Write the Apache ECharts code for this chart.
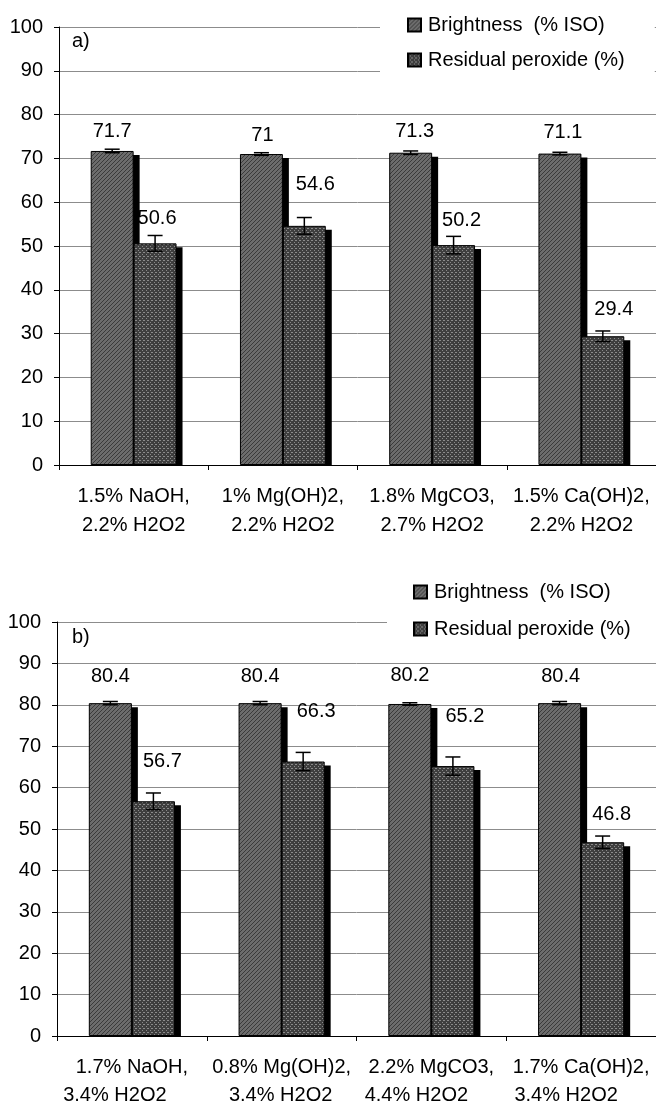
<!DOCTYPE html>
<html>
<head>
<meta charset="utf-8">
<script src="https://cdn.jsdelivr.net/npm/echarts@6/dist/echarts.min.js"></script>
<style>
html,body{margin:0;padding:0;background:#fff;}
#chart{width:656px;height:1109px;}
</style>
</head>
<body>
<div id="chart"></div>
<script>
// ---------- DATA ----------
const seriesNames = ['Brightness  (% ISO)', 'Residual peroxide (%)'];
const catsA = ['1.5% NaOH,\n2.2% H2O2', '1% Mg(OH)2,\n2.2% H2O2', '1.8% MgCO3,\n2.7% H2O2', '1.5% Ca(OH)2,\n2.2% H2O2'];
const brightA = [71.7, 71, 71.3, 71.1];
const residA = [50.6, 54.6, 50.2, 29.4];
const brightErrA = [0.4, 0.3, 0.4, 0.3];
const residErrA = [1.8, 1.9, 2.0, 1.2];

const catsB = ['1.7% NaOH,\n3.4% H2O2', '0.8% Mg(OH)2,\n3.4% H2O2', '2.2% MgCO3,\n4.4% H2O2', '1.7% Ca(OH)2,\n3.4% H2O2'];
const brightB = [80.4, 80.4, 80.2, 80.4];
const residB = [56.7, 66.3, 65.2, 46.8];
const brightErrB = [0.4, 0.4, 0.3, 0.4];
const residErrB = [2.0, 2.2, 2.2, 1.5];

const yMin = 0, yMax = 100, yStep = 10;
const panelTitles = ['a)', 'b)'];

// ---------- STYLE / LAYOUT ----------
// label [dx, distance] per bar
const labelLayoutA = {
  b: [[0, 9], [1, 9], [4, 11], [3, 11]],
  r: [[2, 15], [11, 31], [8, 15], [11, 17]]
};
const labelLayoutB = {
  b: [[0, 17], [0, 17], [0, 18], [1, 17]],
  r: [[9, 30], [13, 40], [12, 40], [9, 18]]
};
// second-line left shift for panel b category labels (px)
const line2ShiftB = [17, 1, 15, 15];

const FONT = '"Liberation Sans", Arial, sans-serif';
const FS = 20;
const GAP = 0.425;
const SH_X = 6, SH_Y = 4;

function makePattern(kind) {
  const c = document.createElement('canvas');
  c.width = 4; c.height = 4;
  const g = c.getContext('2d');
  if (kind === 0) {
    g.fillStyle = '#6c6c6c'; g.fillRect(0, 0, 4, 4);
    g.fillStyle = '#3a3a3a';
    for (let i = 0; i < 4; i++) g.fillRect(i, 3 - i, 1, 1);
  } else {
    g.fillStyle = '#3e3e3e'; g.fillRect(0, 0, 4, 4);
    g.fillStyle = '#8a8a8a';
    g.fillRect(0, 0, 1, 1); g.fillRect(2, 2, 1, 1); g.fillRect(3, 0, 1, 1);
  }
  return { image: c, repeat: 'repeat' };
}
const fills = [makePattern(0), makePattern(1)];

function barLeft(api, idx, v, s) {
  const c = api.coord([idx, v]);
  const cw = api.size([1, 0])[0];
  const bw = cw * (1 - GAP) / 2;
  return { x: c[0] - bw + s * bw, y: c[1], bw: bw };
}

function shadowRender(params, api) {
  const idx = api.value(0), v = api.value(1), s = api.value(2);
  const b = barLeft(api, idx, v, s);
  const base = api.coord([idx, 0])[1];
  return {
    type: 'rect',
    shape: { x: b.x + SH_X, y: b.y + SH_Y, width: b.bw, height: Math.max(0, base - b.y - SH_Y) },
    style: { fill: '#000' }
  };
}

function errRender(params, api) {
  const idx = api.value(0), v = api.value(1), e = api.value(2), s = api.value(3);
  const b = barLeft(api, idx, v, s);
  const cx = b.x + b.bw / 2;
  const yHi = api.coord([idx, v + e])[1];
  const yLo = api.coord([idx, v - e])[1];
  const hw = 7.5;
  const st = { stroke: '#000', lineWidth: 1.5 };
  return {
    type: 'group',
    children: [
      { type: 'line', shape: { x1: cx, y1: yHi, x2: cx, y2: yLo }, style: st },
      { type: 'line', shape: { x1: cx - hw, y1: yHi, x2: cx + hw, y2: yHi }, style: st },
      { type: 'line', shape: { x1: cx - hw, y1: yLo, x2: cx + hw, y2: yLo }, style: st }
    ]
  };
}

const grids = [
  { left: 59, top: 27, width: 598, height: 438 },
  { left: 57, top: 622, width: 600, height: 419 }
];

const panels = [
  { cats: catsA, b: brightA, r: residA, be: brightErrA, re: residErrA, lay: labelLayoutA },
  { cats: catsB, b: brightB, r: residB, be: brightErrB, re: residErrB, lay: labelLayoutB }
];

const xAxes = [], yAxes = [], series = [];
panels.forEach((p, gi) => {
  const rich = {};
  let formatter;
  if (gi === 1) {
    rich.l1 = { fontSize: FS, fontFamily: FONT, color: '#000', lineHeight: 28 };
    line2ShiftB.forEach((sh, i) => {
      rich['l2_' + i] = { fontSize: FS, fontFamily: FONT, color: '#000', lineHeight: 28, padding: [0, sh * 2, 0, 0] };
    });
    formatter = function (val, i) {
      const parts = val.split('\n');
      return '{l1|' + parts[0] + '}\n{l2_' + i + '|' + parts[1] + '}';
    };
  }
  xAxes.push({
    type: 'category', gridIndex: gi, data: p.cats,
    axisLine: { show: true, lineStyle: { color: '#000', width: 1 } },
    axisTick: { show: true, length: 5, interval: 0, lineStyle: { color: '#000' } },
    axisLabel: {
      interval: 0, fontSize: FS, fontFamily: FONT, color: '#000',
      lineHeight: gi === 0 ? 29 : 28, margin: 17,
      formatter: formatter, rich: gi === 1 ? rich : undefined
    },
    splitLine: { show: false }
  });
  yAxes.push({
    type: 'value', gridIndex: gi, min: yMin, max: yMax, interval: yStep,
    axisLine: { show: true, lineStyle: { color: '#000', width: 1 } },
    axisTick: { show: true, length: 5, lineStyle: { color: '#000' } },
    axisLabel: { fontSize: FS, fontFamily: FONT, color: '#000', margin: 16 },
    splitLine: { show: true, lineStyle: { color: '#8c8c8c', width: 1 } }
  });

  // shadows
  const shData = [];
  p.b.forEach((v, i) => shData.push([i, v, 0]));
  p.r.forEach((v, i) => shData.push([i, v, 1]));
  series.push({
    type: 'custom', xAxisIndex: gi, yAxisIndex: gi, z: 1, silent: true,
    renderItem: shadowRender, data: shData, encode: { x: 0, y: 1 }
  });

  [p.b, p.r].forEach((vals, s) => {
    const lay = s === 0 ? p.lay.b : p.lay.r;
    series.push({
      type: 'bar', name: seriesNames[s], xAxisIndex: gi, yAxisIndex: gi, z: 2,
      barGap: '0%', barCategoryGap: (GAP * 100) + '%',
      itemStyle: { color: fills[s], borderColor: '#000', borderWidth: 1 },
      label: { show: true, position: 'top', fontSize: FS, fontFamily: FONT, color: '#000' },
      data: vals.map((v, i) => ({
        value: v,
        label: { offset: [lay[i][0], 0], distance: lay[i][1] }
      }))
    });
  });

  const erData = [];
  p.b.forEach((v, i) => erData.push([i, v, p.be[i], 0]));
  p.r.forEach((v, i) => erData.push([i, v, p.re[i], 1]));
  series.push({
    type: 'custom', xAxisIndex: gi, yAxisIndex: gi, z: 3, silent: true,
    renderItem: errRender, data: erData, encode: { x: 0, y: 1 }
  });
});

const option = {
  animation: false,
  backgroundColor: '#fff',
  grid: grids,
  xAxis: xAxes,
  yAxis: yAxes,
  title: [
    { text: panelTitles[0], left: 72, top: 31, padding: 0, textStyle: { fontSize: FS, fontWeight: 'normal', fontFamily: FONT, color: '#000' } },
    { text: panelTitles[1], left: 72, top: 627, padding: 0, textStyle: { fontSize: FS, fontWeight: 'normal', fontFamily: FONT, color: '#000' } }
  ],
  legend: [
    {
      data: seriesNames, orient: 'vertical', left: 380, top: 7,
      backgroundColor: '#fff', padding: [8, 30, 10, 27], itemGap: 15,
      itemWidth: 13, itemHeight: 13, icon: 'rect', selectedMode: false,
      textStyle: { fontSize: FS, fontFamily: FONT, color: '#000', lineHeight: 20, padding: [0, 0, 0, 2] }
    },
    {
      data: seriesNames, orient: 'vertical', left: 387, top: 574,
      backgroundColor: '#fff', padding: [8, 30, 10, 26], itemGap: 17,
      itemWidth: 13, itemHeight: 13, icon: 'rect', selectedMode: false,
      textStyle: { fontSize: FS, fontFamily: FONT, color: '#000', lineHeight: 20, padding: [0, 0, 0, 2] }
    }
  ],
  series: series
};

const chart = echarts.init(document.getElementById('chart'), null, { renderer: 'canvas' });
chart.setOption(option);
</script>
</body>
</html>
